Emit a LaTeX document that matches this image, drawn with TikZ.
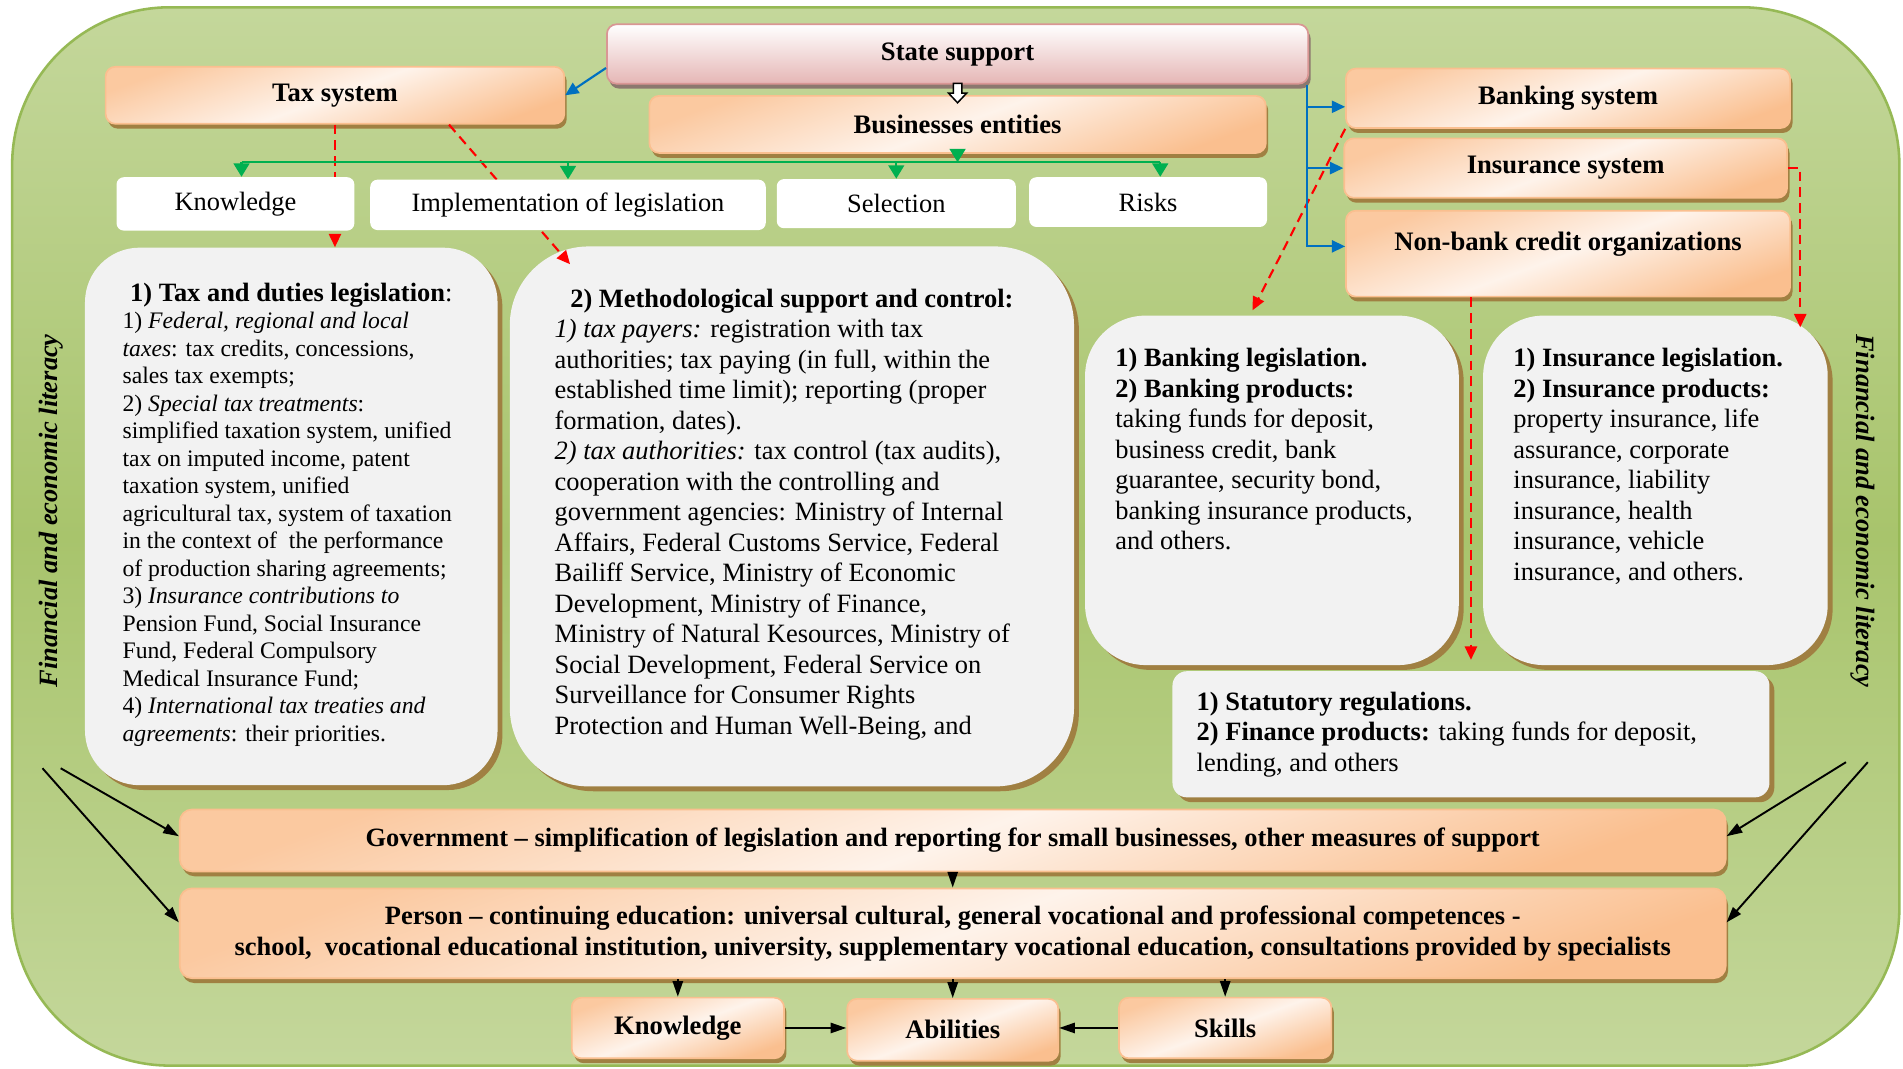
\documentclass[tikz,border=0pt]{standalone}
\usepackage{fontspec}
\setmainfont{Liberation Serif}
\definecolor{GreenLt}{RGB}{196,215,155}
\definecolor{GreenMid}{RGB}{168,196,108}
\definecolor{GreenEdge}{RGB}{150,185,85}
\definecolor{PeachDeep}{RGB}{250,191,143}
\definecolor{PeachPale}{RGB}{254,238,226}
\definecolor{PinkDeep}{RGB}{229,182,181}
\definecolor{PinkEdge}{RGB}{217,150,148}
\definecolor{PanelGray}{RGB}{242,242,242}
\definecolor{ShadowBrown}{RGB}{160,128,66}
\definecolor{ShadowGray}{RGB}{140,120,110}
\definecolor{ArrowBlue}{RGB}{0,112,192}
\definecolor{ArrowGreen}{RGB}{0,176,80}
\usetikzlibrary{arrows.meta, positioning, calc, shadows}
\newcommand{\panelfont}{\fontsize{12.4}{14.3}\selectfont}
\newcommand{\taxfont}{\fontsize{11.1}{12.9}\selectfont}

\begin{document}
\begin{tikzpicture}[
        x=0.02cm, y=-0.02cm,
        % Styles
        hdr/.style={rectangle, rounded corners=0.16cm, draw=PeachDeep, line width=0.8pt, top color=PeachDeep!85, bottom color=PeachDeep, middle color=PeachPale!70!white, shading angle=20, drop shadow={shadow xshift=0.04cm, shadow yshift=-0.08cm, fill=ShadowBrown, opacity=1}, font=\fontsize{12.5}{15}\selectfont\bfseries, align=center, inner sep=0pt},
        pinkbox/.style={rectangle, rounded corners=0.16cm, draw=PinkEdge, line width=0.8pt, top color=white, bottom color=PinkDeep, drop shadow={shadow xshift=0.04cm, shadow yshift=-0.08cm, fill=ShadowGray, opacity=1}, font=\fontsize{12.5}{15}\selectfont\bfseries, inner sep=0pt},
        tag/.style={rectangle, rounded corners=0.12cm, fill=white, font=\panelfont, inner sep=0pt},
        panel/.style={rectangle, fill=PanelGray, drop shadow={shadow xshift=0.08cm, shadow yshift=-0.08cm, fill=ShadowBrown, opacity=1}, inner sep=0pt},
        literacy/.style={font=\fontsize{12.4}{15}\selectfont\bfseries\itshape},
        blueline/.style={draw=ArrowBlue, line width=1pt},
        bluearrow/.style={blueline, -{Triangle[length=0.22cm, width=0.2cm]}},
        greenline/.style={draw=ArrowGreen, line width=1pt},
        greenarrow/.style={greenline, -{Triangle[length=0.22cm, width=0.26cm]}},
        redarrow/.style={draw=red, line width=1pt, dash pattern=on 0.16cm off 0.1cm, -{Triangle[length=0.22cm, width=0.2cm]}},
        blackarrow/.style={draw=black, line width=0.9pt, -{Triangle[length=0.26cm, width=0.17cm]}}
    ]
        \useasboundingbox (0,0) rectangle (1568,880);
        \fill[white] (0,0) rectangle (1568,880);
        % Background
        \draw[rounded corners=2.6cm, draw=GreenEdge, line width=1.2pt, top color=GreenLt, bottom color=GreenLt, middle color=GreenMid] (10,6) rectangle (1565,878);

        % Nodes
        \node [pinkbox, minimum width=11.56cm, minimum height=0.98cm] (state) at (789,44.5) {State support};
        \node [hdr, minimum width=7.56cm, minimum height=0.94cm] (tax) at (276,78.5) {Tax system};
        \node [hdr, minimum width=10.16cm, minimum height=0.94cm] (biz) at (789,102.5) {Businesses entities};
        \node [hdr, minimum width=7.32cm, minimum height=0.98cm] (bank) at (1292,81) {Banking system};
        \node [hdr, minimum width=7.3cm, minimum height=0.98cm] (ins) at (1290,138.5) {Insurance system};
        \node [hdr, minimum width=7.32cm, inner ysep=0pt, text height=18.5pt, text depth=21.8pt] (nonbank) at (1292,209) {Non-bank credit organizations};

        \node [panel, rounded corners=0.9cm, inner xsep=0.62cm, inner ysep=0.58cm] (box1) at (240,425.5) {\parbox[c][7.70cm][t]{5.56cm}{%
            {\centering\panelfont\textbf{1) Tax and duties legislation}:\par}
            \taxfont\raggedright
            1) \textit{Federal, regional and local}\\
            \textit{taxes}: tax credits, concessions,\\
            sales tax exempts;\\
            2) \textit{Special tax treatments}:\\
            simplified taxation system, unified\\
            tax on imputed income, patent\\
            taxation system, unified\\
            agricultural tax, system of taxation\\
            in the context of \ the performance\\
            of production sharing agreements;\\
            3) \textit{Insurance contributions to}\\
            Pension Fund, Social Insurance\\
            Fund, Federal Compulsory\\
            Medical Insurance Fund;\\
            4) \textit{International tax treaties and}\\
            \textit{agreements}: their priorities.}};
        \node [panel, rounded corners=1.3cm, inner xsep=0.74cm, inner ysep=0.70cm] (box2) at (652.5,425.5) {\parbox[c][7.5cm][t]{7.82cm}{%
            {\centering\panelfont\textbf{2) Methodological support and control:}\par}
            \panelfont\raggedright
            \textit{1) tax payers:} registration with tax\\
            authorities; tax paying (in full, within the\\
            established time limit); reporting (proper\\
            formation, dates).\\
            \textit{2) tax authorities:} tax control (tax audits),\\
            cooperation with the controlling and\\
            government agencies: Ministry of Internal\\
            Affairs, Federal Customs Service, Federal\\
            Bailiff Service, Ministry of Economic\\
            Development, Ministry of Finance,\\
            Ministry of Natural Kesources, Ministry of\\
            Social Development, Federal Service on\\
            Surveillance for Consumer Rights\\
            Protection and Human Well-Being, and}};
        \node [panel, rounded corners=1.0cm, inner xsep=0.5cm, inner ysep=0.54cm] (box3) at (1048,404) {\parbox[c][4.68cm][t]{5.16cm}{%
            \panelfont\raggedright
            \textbf{1) Banking legislation.}\\
            \textbf{2) Banking products:}\\
            taking funds for deposit,\\
            business credit, bank\\
            guarantee, security bond,\\
            banking insurance products,\\
            and others.}};
        \node [panel, rounded corners=1.0cm, inner xsep=0.5cm, inner ysep=0.54cm] (box4) at (1364,404) {\parbox[c][4.68cm][t]{4.68cm}{%
            \panelfont\raggedright
            \textbf{1) Insurance legislation.}\\
            \textbf{2) Insurance products:}\\
            property insurance, life\\
            assurance, corporate\\
            insurance, liability\\
            insurance, health\\
            insurance, vehicle\\
            insurance, and others.}};
        \node [panel, rounded corners=0.24cm, inner xsep=0.4cm, inner ysep=0.34cm] (box5) at (1212,605) {\parbox[c][1.40cm][t]{9.04cm}{%
            \panelfont\raggedright
            \textbf{1) Statutory regulations.}\\
            \textbf{2) Finance products:} taking funds for deposit,\\
            lending, and others}};

        \node [hdr, rounded corners=0.2cm, minimum width=25.48cm, minimum height=1.02cm, font=\fontsize{12.4}{14.7}\selectfont\bfseries] (gov) at (785,692.5) {Government -- simplification of legislation and reporting for small businesses, other measures of support};
        \node [hdr, rounded corners=0.2cm, minimum width=25.48cm, minimum height=1.48cm, font=\fontsize{12.4}{14.7}\selectfont\bfseries] (person) at (785,769) {Person -- continuing education: universal cultural, general vocational and professional competences -\\school, \ vocational educational institution, university, supplementary vocational education, consultations provided by specialists};
        \node [hdr, minimum width=3.5cm, minimum height=1.0cm] (know2) at (558.5,847) {Knowledge};
        \node [hdr, minimum width=3.48cm, minimum height=1.02cm] (abil) at (785,848.5) {Abilities};
        \node [hdr, minimum width=3.5cm, minimum height=1.0cm] (skills) at (1009.5,847) {Skills};

        \node [literacy, rotate=90] (litL) at (42,421) {Financial and economic literacy};
        \node [literacy, rotate=-90] (litR) at (1535,421) {Financial and economic literacy};

        % Red paths (behind the tags)
        \path [redarrow] (tax.south) -- (tax.south |- box1.north);
        \path [redarrow] ([xshift=1.88cm]tax.south) -- ($(box2.north west)+(50,15)$);
        \path [redarrow] (bank.south west) -- ($(box3.north)+(-16,-4)$);
        \path [redarrow] (ins.east) -| ($(box4.north east)+(-23,10)$);
        \path [redarrow] (nonbank.south -| box5.north) -- ($(box5.north)+(0,-9)$);

        \node [tag, minimum width=3.92cm, minimum height=0.88cm] (know) at (194,168) {Knowledge};
        \node [tag, minimum width=6.52cm, minimum height=0.83cm] (impl) at (468,168.8) {Implementation of legislation};
        \node [tag, minimum width=3.94cm, minimum height=0.81cm] (sel) at (738.5,167.8) {Selection};
        \node [tag, minimum width=3.92cm, minimum height=0.82cm] (risks) at (946,166.5) {Risks};

        % Blue paths
        \path [bluearrow] ([yshift=-0.23cm]state.west) -- (tax.east);
        \coordinate (trunk) at ([xshift=-0.04cm]state.south east);
        \coordinate (bankin) at ([yshift=-0.14cm]bank.west);
        \coordinate (nbin) at ([yshift=0.12cm]nonbank.west);
        \path [bluearrow] (trunk) |- (nbin);
        \path [bluearrow] (trunk |- bankin) -- (bankin);
        \path [bluearrow] (trunk |- ins.west) -- (ins.west);

        % Hollow arrow
        \draw [fill=white, line width=0.7pt] ($(state.south)+(-3.5,-1)$) -- ++(0,8) -- ++(-4,0) -- ($(state.south)+(0,15)$) -- ($(state.south)+(7.5,7)$) -- ++(-4,0) -- ++(0,-8) -- cycle;

        % Green paths
        \coordinate (bus) at ([yshift=-0.14cm]biz.south);
        \coordinate (knowin) at ([xshift=0.1cm]know.north);
        \coordinate (risksin) at ([xshift=0.2cm]risks.north);
        \path [greenline] (knowin |- bus) -- (risksin |- bus);
        \path [greenarrow] (biz.south) -- (bus);
        \path [greenarrow] (knowin |- bus) -- (knowin);
        \path [greenarrow] (impl.north |- bus) -- (impl.north);
        \path [greenarrow] (sel.north |- bus) -- (sel.north);
        \path [greenarrow] (risksin |- bus) -- (risksin);

        % Black paths
        \path [blackarrow] (gov) -- (person);
        \path [blackarrow] (person.south -| know2) -- (know2);
        \path [blackarrow] (person.south -| abil) -- (abil);
        \path [blackarrow] (person.south -| skills) -- (skills);
        \path [blackarrow] (know2.east) -- (abil.west |- know2.east);
        \path [blackarrow] (skills.west) -- (abil.east |- skills.west);

        \coordinate (litL1) at (35,633);
        \coordinate (litL2) at (50,633);
        \coordinate (litR1) at (1521,628);
        \coordinate (litR2) at (1539,628);
        \path [blackarrow] (litL1) -- ([yshift=0.18cm]person.west);
        \path [blackarrow] (litL2) -- ([yshift=0.07cm]gov.west);
        \path [blackarrow] (litR1) -- ([yshift=0.07cm]gov.east);
        \path [blackarrow] (litR2) -- ([yshift=0.18cm]person.east);
\end{tikzpicture}
\end{document}
